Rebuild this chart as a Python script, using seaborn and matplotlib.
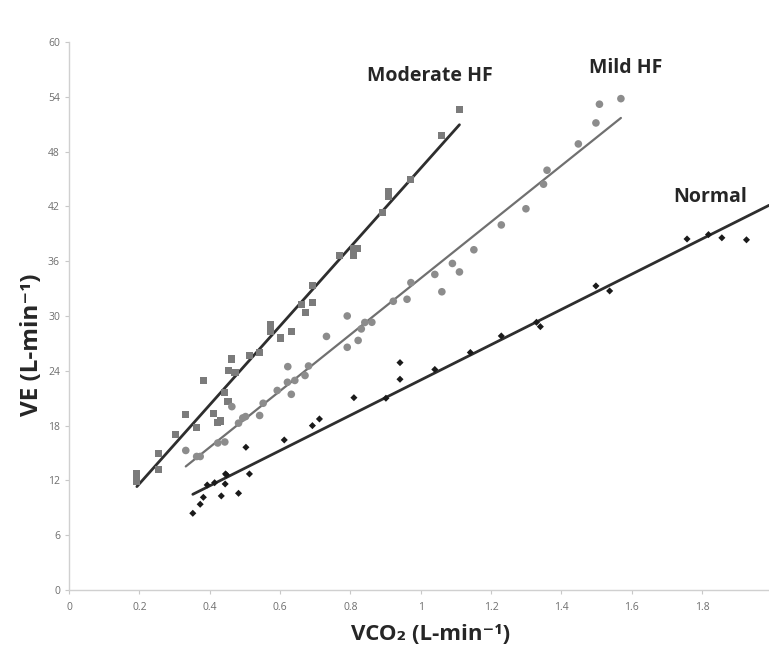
import numpy as np
import pandas as pd
import matplotlib
matplotlib.use("Agg")
import matplotlib.pyplot as plt
import seaborn as sns

# VCO2 / VE readings per group (L/min)
moderate_vco2 = [0.193, 0.193, 0.254, 0.254, 0.303, 0.332, 0.363, 0.383, 0.412, 0.422,
                 0.432, 0.443, 0.452, 0.453, 0.463, 0.472, 0.513, 0.542, 0.572, 0.572,
                 0.601, 0.632, 0.661, 0.672, 0.692, 0.692, 0.770, 0.810, 0.810, 0.820,
                 0.890, 0.909, 0.909, 0.971, 1.059, 1.110]
moderate_ve = [12.76, 11.94, 14.90, 13.22, 16.98, 19.17, 17.78, 22.95, 19.33, 18.32,
               18.51, 21.61, 20.62, 24.00, 25.30, 23.84, 25.63, 26.03, 29.03, 28.29,
               27.60, 28.29, 31.29, 30.39, 33.30, 31.52, 36.62, 36.69, 37.38, 37.38,
               41.38, 43.67, 43.10, 44.99, 49.80, 52.63]

mild_vco2 = [0.332, 0.363, 0.373, 0.423, 0.443, 0.463, 0.482, 0.494, 0.502, 0.542,
             0.552, 0.592, 0.621, 0.622, 0.632, 0.642, 0.671, 0.681, 0.732, 0.791,
             0.791, 0.822, 0.831, 0.841, 0.861, 0.922, 0.961, 0.972, 1.040, 1.060,
             1.090, 1.110, 1.151, 1.229, 1.299, 1.349, 1.359, 1.448, 1.498, 1.508, 1.569]
mild_ve = [15.28, 14.62, 14.62, 16.10, 16.21, 20.08, 18.27, 18.84, 18.99, 19.11,
           20.45, 21.85, 22.75, 24.46, 21.43, 22.95, 23.49, 24.53, 27.77, 30.01,
           26.58, 27.33, 28.59, 29.30, 29.32, 31.62, 31.84, 33.66, 34.56, 32.66,
           35.76, 34.83, 37.26, 39.98, 41.75, 44.44, 45.97, 48.85, 51.15, 53.20, 53.81]

normal_vco2 = [0.352, 0.373, 0.382, 0.393, 0.414, 0.433, 0.444, 0.445, 0.448, 0.482,
               0.503, 0.513, 0.612, 0.692, 0.712, 0.810, 0.901, 0.941, 0.941, 1.040,
               1.141, 1.229, 1.329, 1.340, 1.498, 1.537, 1.757, 1.818, 1.856, 1.926]
normal_ve = [8.40, 9.39, 10.15, 11.50, 11.75, 10.30, 11.61, 12.71, 12.60, 10.59,
             15.63, 12.71, 16.43, 18.00, 18.73, 21.06, 21.00, 23.08, 24.90, 24.15,
             26.01, 27.82, 29.32, 28.84, 33.30, 32.75, 38.44, 38.92, 38.57, 38.35]

x_ticks = [0, 0.2, 0.4, 0.6, 0.8, 1, 1.2, 1.4, 1.6, 1.8]
x_tick_labels = ["0", "0.2", "0.4", "0.6", "0.8", "1", "1.2", "1.4", "1.6", "1.8"]
y_ticks = [0, 6, 12, 18, 24, 30, 36, 42, 48, 54, 60]

df = pd.concat([
    pd.DataFrame({"VCO2": moderate_vco2, "VE": moderate_ve, "group": "Moderate HF"}),
    pd.DataFrame({"VCO2": mild_vco2, "VE": mild_ve, "group": "Mild HF"}),
    pd.DataFrame({"VCO2": normal_vco2, "VE": normal_ve, "group": "Normal"}),
])

sns.set_style("white")
plt.rcParams['font.family'] = ['Open Sans', 'DejaVu Sans']

fig = plt.figure(figsize=(7.69, 6.53), dpi=100)
ax = fig.add_axes([0.0897, 0.0965, 0.9103, 0.839])

styles = {
    "Moderate HF": dict(marker="s", ms=26, pt="#7b7b7b", line="#2e2e2e", lw=2.0),
    "Mild HF": dict(marker="o", ms=30, pt="#8c8c8c", line="#707070", lw=1.6),
    "Normal": dict(marker="D", ms=13, pt="#1a1a1a", line="#2e2e2e", lw=2.0),
}
xmax = 1.99

for name, st in styles.items():
    sub = df[df["group"] == name]
    sns.scatterplot(data=sub, x="VCO2", y="VE", ax=ax, marker=st["marker"], s=st["ms"],
                    color=st["pt"], edgecolor="none", zorder=3)
    if name == "Normal":
        # trendline carried forward to the right edge
        b1, b0 = np.polyfit(sub["VCO2"], sub["VE"], 1)
        xs = np.array([sub["VCO2"].min(), xmax])
        sns.lineplot(x=xs, y=b0 + b1 * xs, ax=ax, color=st["line"], lw=st["lw"], zorder=2)
    else:
        sns.regplot(data=sub, x="VCO2", y="VE", ax=ax, scatter=False, ci=None,
                    line_kws={"color": st["line"], "lw": st["lw"], "zorder": 2})

ax.set_xlim(0, xmax)
ax.set_ylim(0, 60)
ax.set_xticks(x_ticks)
ax.set_xticklabels(x_tick_labels)
ax.set_yticks(y_ticks)
ax.tick_params(axis='both', labelsize=7.5, colors='#c8c8c8', labelcolor='#6e6e6e',
               direction='out', length=3, width=0.8, bottom=True, left=True)
ax.tick_params(axis='x', pad=6)
for side in ['top', 'right']:
    ax.spines[side].set_visible(False)
for side in ['left', 'bottom']:
    ax.spines[side].set_color('#d0d0d0')
    ax.spines[side].set_linewidth(1.0)

ax.set_xlabel("VCO\u2082 (L-min\u207b\u00b9)", fontsize=16, fontweight='bold', labelpad=10)
ax.xaxis.set_label_coords(0.517, -0.062)
ax.set_ylabel("VE (L-min\u207b\u00b9)", fontsize=17.5, fontweight='bold', labelpad=14)
ax.yaxis.set_label_coords(-0.035, 0.447)

ax.text(1.026, 56.3, "Moderate HF", fontsize=14, fontweight='bold', ha='center', va='center')
ax.text(1.584, 57.2, "Mild HF", fontsize=14, fontweight='bold', ha='center', va='center')
ax.text(1.822, 43.0, "Normal", fontsize=14, fontweight='bold', ha='center', va='center')

fig.savefig("out.png", dpi=100)
